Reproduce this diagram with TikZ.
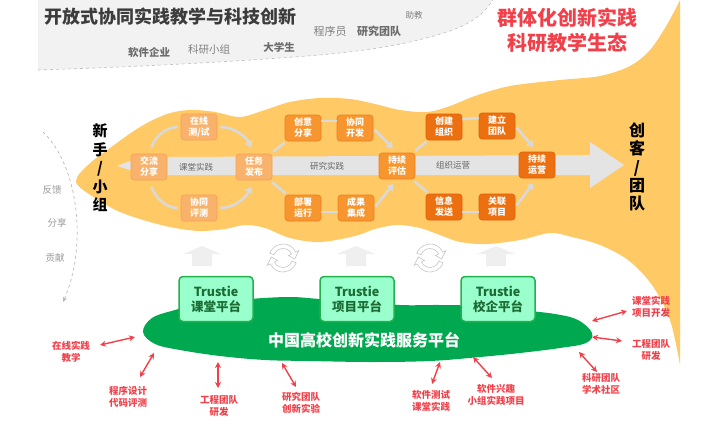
\documentclass[tikz,border=0pt]{standalone}
\usepackage{fontspec}
\setmainfont{Noto Sans CJK SC}
\usetikzlibrary{arrows.meta,calc}
\definecolor{yel}{HTML}{FFC965}
\definecolor{gtop}{HTML}{F2F2F2}
\definecolor{bandc}{HTML}{E4E4E4}
\definecolor{connc}{HTML}{D9D9D9}
\definecolor{boxL}{HTML}{F9B26B}
\definecolor{boxLd}{HTML}{F4A154}
\definecolor{boxM}{HTML}{F7952F}
\definecolor{boxMd}{HTML}{EE8020}
\definecolor{boxD}{HTML}{EC7010}
\definecolor{boxDd}{HTML}{E0600A}
\definecolor{redc}{HTML}{F2404A}
\definecolor{titlec}{HTML}{3C3C3C}
\definecolor{greenc}{HTML}{00A94F}
\definecolor{gfill}{HTML}{99FFCC}
\definecolor{gdraw}{HTML}{22B14C}
\definecolor{gtext}{HTML}{1B6B33}
\definecolor{upc}{HTML}{EFEFEF}
\definecolor{bandtxt}{HTML}{666666}
\definecolor{sidetxt}{HTML}{999999}
\tikzset{
  lbox/.style={rounded corners=3pt, minimum width=36pt, minimum height=26pt, inner sep=0pt,
    text=white, font=\fontsize{9}{11}\selectfont\bfseries, align=center,
    fill=boxL, draw=boxLd, line width=0.6pt},
  mbox/.style={lbox, fill=boxM, draw=boxMd},
  dbox/.style={lbox, fill=boxD, draw=boxDd},
  conn/.style={draw=connc, line width=2.6pt},
  carr/.style={conn, -{Triangle[length=6pt,width=8pt]}},
  bandlbl/.style={text=bandtxt, font=\fontsize{8.5}{10}\selectfont},
  gbox/.style={rounded corners=4pt, minimum width=74pt, minimum height=45pt, inner sep=0pt,
    fill=gfill, draw=gdraw, line width=1.5pt, text=gtext,
    font=\fontsize{12.5}{15}\selectfont\bfseries, align=center},
  rarr/.style={draw=redc, line width=1.4pt, {Stealth[length=6pt,width=6pt]}-{Stealth[length=6pt,width=6pt]}},
  rlbl/.style={text=redc, font=\fontsize{9.5}{11.5}\selectfont\bfseries, align=center},
  sidelbl/.style={text=sidetxt, font=\fontsize{9.5}{11}\selectfont},
  cycicon/.style={fill=white, draw=gray!45, line width=0.6pt},
}
\begin{document}
\begin{tikzpicture}[x=1pt,y=-1pt]
\useasboundingbox (0,0) rectangle (718,426);

% gray top region
\fill[gtop] (38,0) -- plot[smooth, tension=0.6] coordinates {(38,70) (120,67) (200,63) (280,58) (340,53) (390,46) (430,37) (460,27) (480,15) (493,0)} -- cycle;
\draw[gray!50, dashed, line width=0.6pt] plot[smooth, tension=0.6] coordinates {(38,70) (120,67) (200,63) (280,58) (340,53) (390,46) (430,37) (460,27) (480,15) (493,0)};

% yellow region
\fill[yel] plot[smooth, tension=0.55] coordinates {(680,365) (670,320) (652,285) (628,260) (600,245) (572,237) (550,233) (520,240) (487,244) (460,242) (440,235) (420,228) (397,225) (375,229) (355,236) (320,242) (290,238) (265,228) (245,225) (225,229) (200,231) (175,228) (150,222) (120,212) (95,198) (76,182) (88,165) (110,148) (140,127) (167,114) (190,110) (215,112) (240,117) (265,110) (290,102) (320,98) (350,99) (375,104) (400,110) (427,112) (450,106) (475,96) (510,86) (560,80) (600,76) (630,66) (650,50) (665,28) (675,10) (680,0)} -- cycle;

% gray band arrow
\fill[bandc] (117,166) .. controls (135,158) and (150,157) .. (170,157) -- (590,155) -- (590,142) -- (624,165) -- (590,188) -- (590,175) -- (170,175) .. controls (150,175) and (135,172) .. cycle;

% band labels
\node[bandlbl] (bl1) at (196,167) {课堂实践};
\node[bandlbl] (bl2) at (327,166) {研究实践};
\node[bandlbl] (bl3) at (453,165) {组织运营};

% titles
\node[font=\fontsize{18}{20}\selectfont\bfseries, text=titlec] (t1) at (170,17) {开放式协同实践教学与科技创新};
\node[font=\fontsize{20}{25}\selectfont\bfseries, text=redc, align=center] (t2) at (567,30) {群体化创新实践\\科研教学生态};
\node[font=\fontsize{10.5}{12}\selectfont\bfseries, text=gray!85!black] (w1) at (149,52) {软件企业};
\node[font=\fontsize{10.5}{12}\selectfont, text=gray] (w2) at (209,50) {科研小组};
\node[font=\fontsize{10.5}{12}\selectfont\bfseries, text=gray!85!black] (w3) at (279,47) {大学生};
\node[font=\fontsize{11}{12}\selectfont, text=gray] (w4) at (330,31) {程序员};
\node[font=\fontsize{11}{12}\selectfont\bfseries, text=gray!85!black] (w5) at (379,31) {研究团队};
\node[font=\fontsize{8.5}{10}\selectfont, text=gray] (w6) at (414,15) {助教};

% side texts
\node[font=\fontsize{15}{18.5}\selectfont\bfseries, align=center] (nov) at (100,168) {新\\手\\/\\小\\组};
\node[font=\fontsize{16}{18.3}\selectfont\bfseries, align=center] (crt) at (637,167) {创\\客\\/\\团\\队};

% left dashed arc
\node[sidelbl] (s1) at (52,190) {反馈};
\node[sidelbl] (s2) at (57,223) {分享};
\node[sidelbl] (s3) at (55,258) {贡献};
\coordinate (da) at (43,132);
\coordinate (db) at (63,302);
\draw[gray!55, dashed, line width=0.7pt, -{Stealth[length=5pt,width=4pt]}] (da) .. controls (78,165) and (88,245) .. (db);

% process boxes
\node[lbox] (jl) at (149,167) {交流\\分享};
\node[lbox] (zx) at (199,127) {在线\\测/试};
\node[lbox] (xp) at (199,208) {协同\\评测};
\node[lbox] (rw) at (254,167) {任务\\发布};
\node[mbox] (cy) at (303,128) {创意\\分享};
\node[mbox] (xk) at (355,128) {协同\\开发};
\node[mbox] (bs) at (303,208) {部署\\运行};
\node[mbox] (cg) at (356,208) {成果\\集成};
\node[mbox] (cx) at (397,166) {持续\\评估};
\node[dbox] (cj) at (444,127) {创建\\组织};
\node[dbox] (jd) at (497,126) {建立\\团队};
\node[dbox] (xx) at (444,207) {信息\\发送};
\node[dbox] (gl) at (497,207) {关联\\项目};
\node[dbox] (yy) at (537,165) {持续\\运营};

% connectors
\draw[conn, shorten <=7pt, shorten >=3pt] (jl.north) to[out=70,in=180] (zx.west);
\draw[carr, shorten <=3pt, shorten >=7pt] (zx.east) to[out=0,in=115] (rw.north);
\draw[conn, shorten <=7pt, shorten >=3pt] (jl.south) to[out=-70,in=180] (xp.west);
\draw[carr, shorten <=3pt, shorten >=7pt] (xp.east) to[out=0,in=-115] (rw.south);
\draw[conn, shorten <=3pt, shorten >=2pt] (rw) -- (cy);
\draw[conn] ([yshift=7pt]cy.east) -- ([yshift=7pt]xk.west);
\draw[carr, shorten <=2pt, shorten >=6pt] (xk.east) -- (cx.north);
\draw[conn, shorten <=3pt, shorten >=2pt] (rw) -- (bs);
\draw[conn] ([yshift=-4pt]bs.east) -- ([yshift=-4pt]cg.west);
\draw[carr, shorten <=2pt, shorten >=6pt] (cg.east) -- (cx.south);
\draw[conn, shorten <=3pt, shorten >=2pt] (cx) -- (cj);
\draw[conn] ([yshift=8pt]cj.east) -- ([yshift=8pt]jd.west);
\draw[carr, shorten <=2pt, shorten >=6pt] (jd.east) -- (yy.north);
\draw[conn, shorten <=3pt, shorten >=2pt] (cx) -- (xx);
\draw[conn] ([yshift=-5pt]xx.east) -- ([yshift=-5pt]gl.west);
\draw[carr, shorten <=2pt, shorten >=6pt] (gl.east) -- (yy.south);

% up arrows
\foreach \c in {202,356,496} {
  \fill[upc] (\c-10,266) -- (\c-10,254) -- (\c-19,254) -- (\c,246) -- (\c+19,254) -- (\c+10,254) -- (\c+10,266) -- cycle;
}
% cycle icons
\foreach \cx in {283,430} {
  \begin{scope}[shift={(\cx,258)}]
    \draw[cycicon] (-160:14) arc[start angle=-160, end angle=-25, radius=14] -- (-25:17.5) -- (5:11.75) -- (-25:6) -- (-25:9.5) arc[start angle=-25, end angle=-160, radius=9.5] -- cycle;
    \draw[cycicon] (20:14) arc[start angle=20, end angle=155, radius=14] -- (155:17.5) -- (185:11.75) -- (155:6) -- (155:9.5) arc[start angle=155, end angle=20, radius=9.5] -- cycle;
  \end{scope}
}

% green cloud
\fill[greenc] plot[smooth cycle, tension=0.6] coordinates {(143,332) (152,318) (175,310) (200,304) (250,299) (290,297) (320,299) (360,301) (400,305) (440,305) (480,306) (520,310) (555,314) (578,320) (592,333) (586,343) (560,348) (520,353) (480,357) (430,361) (370,362) (310,361) (265,360) (220,356) (180,350) (155,344)};

% platform boxes
\node[gbox] (p1) at (216,299) {Trustie\\课堂平台};
\node[gbox] (p2) at (357,299) {Trustie\\项目平台};
\node[gbox] (p3) at (498,299) {Trustie\\校企平台};
\node[font=\fontsize{16}{18}\selectfont\bfseries, text=white] (mt) at (364,340) {中国高校创新实践服务平台};

% red labels
\node[rlbl] (l1) at (71,352) {在线实践\\教学};
\node[rlbl] (l2) at (128,397) {程序设计\\代码评测};
\node[rlbl] (l3) at (219,406) {工程团队\\研发};
\node[rlbl] (l4) at (301,403) {研究团队\\创新实验};
\node[rlbl] (l5) at (431,401) {软件测试\\课堂实践};
\node[rlbl] (l6) at (496,395) {软件兴趣\\小组实践项目};
\node[rlbl] (l7) at (601,384) {科研团队\\学术社区};
\node[rlbl] (l8) at (651,307) {课堂实践\\项目开发};
\node[rlbl] (l9) at (651,350) {工程团队\\研发};

% red arrows
\coordinate (r1a) at (100,345); \coordinate (r1b) at (135,337);
\coordinate (r2a) at (140,377); \coordinate (r2b) at (154,353);
\coordinate (r3a) at (218,388); \coordinate (r3b) at (218,362);
\coordinate (r4a) at (296,387); \coordinate (r4b) at (282,363);
\coordinate (r5a) at (432,384); \coordinate (r5b) at (440,362);
\coordinate (r6a) at (492,378); \coordinate (r6b) at (473,357);
\coordinate (r7a) at (597,372); \coordinate (r7b) at (579,352);
\coordinate (r8a) at (627,311); \coordinate (r8b) at (592,321);
\coordinate (r9a) at (622,341); \coordinate (r9b) at (592,337);
\foreach \i in {1,...,9} { \draw[rarr] (r\i a) -- (r\i b); }
\end{tikzpicture}
\end{document}
